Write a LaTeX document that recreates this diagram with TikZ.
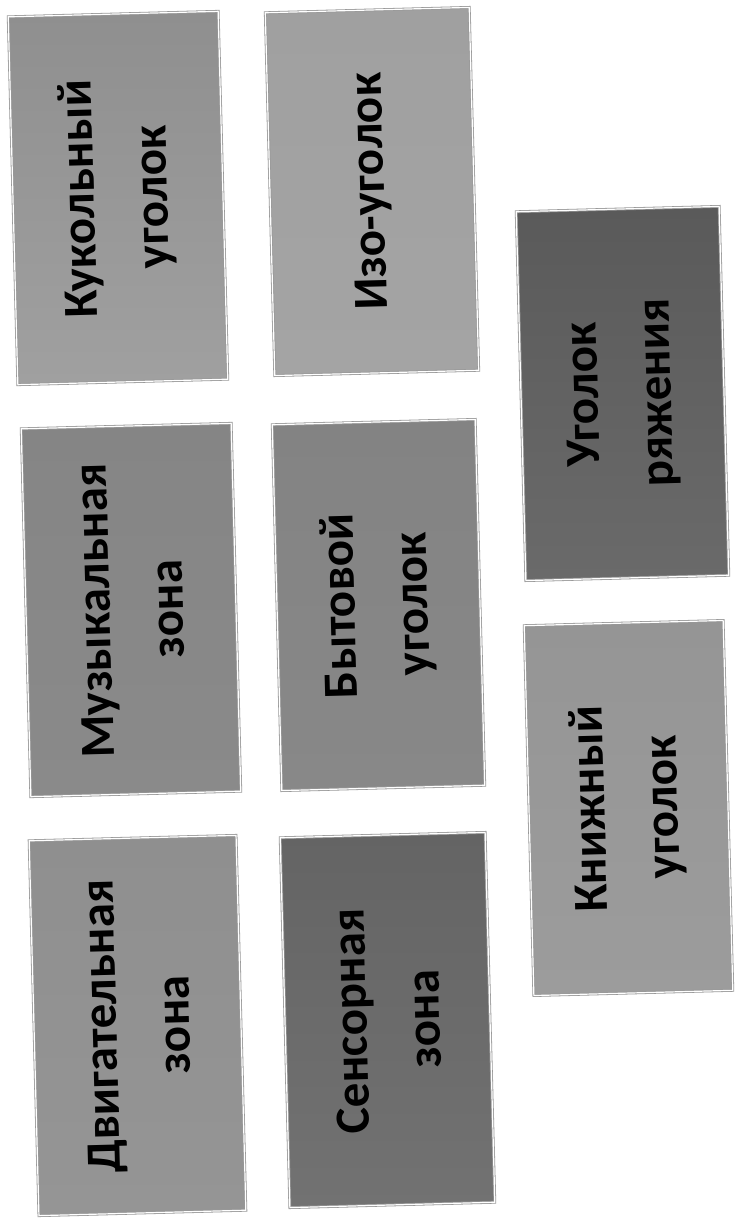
\documentclass[tikz,border=0pt]{standalone}
\usepackage{fontspec}
\setmainfont{Carlito}
\definecolor{kL}{HTML}{8F8F8F}\definecolor{kM}{HTML}{A8A8A8}\definecolor{kR}{HTML}{A0A0A0}
\definecolor{iL}{HTML}{A0A0A0}\definecolor{iM}{HTML}{ABABAB}\definecolor{iR}{HTML}{A4A4A4}
\definecolor{rL}{HTML}{5A5A5A}\definecolor{rM}{HTML}{757575}\definecolor{rR}{HTML}{6A6A6A}
\definecolor{mL}{HTML}{858585}\definecolor{mM}{HTML}{969696}\definecolor{mR}{HTML}{8A8A8A}
\definecolor{bL}{HTML}{838383}\definecolor{bM}{HTML}{919191}\definecolor{bR}{HTML}{888888}
\definecolor{nL}{HTML}{959595}\definecolor{nM}{HTML}{A4A4A4}\definecolor{nR}{HTML}{9C9C9C}
\definecolor{dL}{HTML}{8F8F8F}\definecolor{dM}{HTML}{9E9E9E}\definecolor{dR}{HTML}{959595}
\definecolor{sL}{HTML}{646464}\definecolor{sM}{HTML}{7C7C7C}\definecolor{sR}{HTML}{727272}
\begin{document}
\begin{tikzpicture}[x=1pt,y=1pt,
  zone/.style={draw=black!40, double=white, double distance=1.2pt, line width=0.8pt,
    inner sep=0pt, outer sep=0pt, align=center, rotate=91.5,
    font=\fontsize{49}{73}\selectfont\bfseries, text=black},
  shadeit/.style n args={3}{top color=#1, middle color=#2, bottom color=#3}
]
\fill[white] (0,0) rectangle (734,-1218);
\useasboundingbox (0,0) rectangle (734,-1218);

\node[zone, shadeit={kL}{kM}{kR}, minimum width=368pt, minimum height=210pt] (kuk) at (118,-198) {Кукольный\\уголок};
\node[zone, shadeit={iL}{iM}{iR}, minimum width=363pt, minimum height=204pt] (izo) at (372,-191.5) {Изо-уголок};
\node[zone, shadeit={rL}{rM}{rR}, minimum width=369pt, minimum height=203pt] (ryazh) at (622.5,-393.5) {Уголок\\ряжения};
\node[zone, shadeit={mL}{mM}{mR}, minimum width=368pt, minimum height=210pt] (muz) at (131,-610) {Музыкальная\\зона};
\node[zone, shadeit={bL}{bM}{bR}, minimum width=366pt, minimum height=203pt] (byt) at (378.5,-605) {Бытовой\\уголок};
\node[zone, shadeit={nL}{nM}{nR}, minimum width=370pt, minimum height=199pt] (knizh) at (628.5,-808) {Книжный\\уголок};
\node[zone, shadeit={dL}{dM}{dR}, minimum width=375pt, minimum height=207pt] (dvig) at (137.5,-1025.5) {Двигательная\\зона};
\node[zone, shadeit={sL}{sM}{sR}, minimum width=370pt, minimum height=205pt] (sens) at (387.5,-1020) {Сенсорная\\зона};
\end{tikzpicture}
\end{document}
